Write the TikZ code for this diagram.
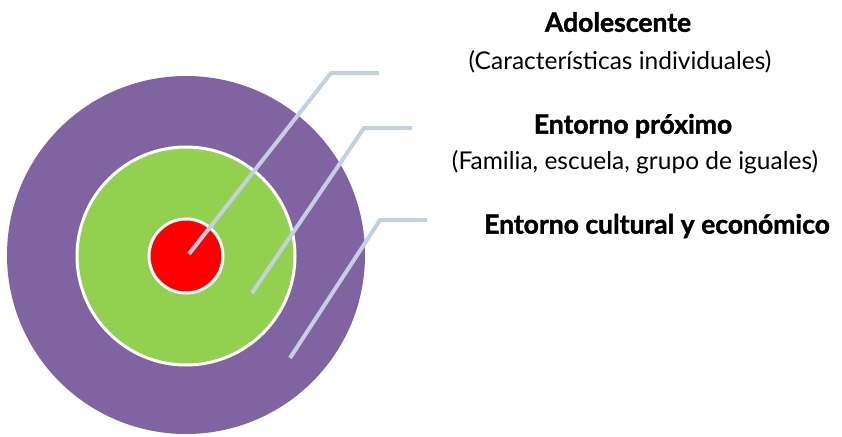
\documentclass[tikz,border=0pt]{standalone}
\usepackage{fontspec}
\setmainfont{Lato}[BoldFeatures={FakeBold=1.5}]
\begin{document}
\begin{tikzpicture}[x=1pt,y=-1pt,
  ring/.style={circle,draw=white,line width=3pt,inner sep=0pt},
  leader/.style={draw=leadcol,line width=4pt},
  head/.style={font=\fontsize{26.5}{30}\selectfont\bfseries,inner sep=0pt},
  sub/.style={font=\fontsize{24.5}{28}\selectfont,inner sep=0pt}]
\definecolor{purp}{HTML}{8064A2}
\definecolor{grn}{HTML}{92D050}
\definecolor{leadcol}{HTML}{C4CFDF}
\useasboundingbox (0,0) rectangle (842,436);
\node[circle,fill=purp,minimum size=358pt,inner sep=0pt] (outer) at (186,255) {};
\node[ring,fill=grn,minimum size=218pt] (mid) at (186,256) {};
\node[ring,fill=red,minimum size=74pt] (core) at (186,256) {};
% leader lines
\coordinate (a1) at (189,254); \coordinate (b1) at (331,73); \coordinate (c1) at (379,73);
\coordinate (a2) at (252,293); \coordinate (b2) at (364,128); \coordinate (c2) at (412,128);
\coordinate (a3) at (290,358); \coordinate (b3) at (380,220); \coordinate (c3) at (427,220);
\draw[leader] (a1) -- (b1) -- (c1);
\draw[leader] (a2) -- (b2) -- (c2);
\draw[leader] (a3) -- (b3) -- (c3);
% labels
\node[head] (t1) at (618,22) {Adolescente};
\node[sub] (s1) at (620,62) {(Características individuales)};
\node[head] (t2) at (633,126) {Entorno próximo};
\node[sub] (s2) at (635,162) {(Familia, escuela, grupo de iguales)};
\node[head] (t3) at (657,226) {Entorno cultural y económico};
\end{tikzpicture}
\end{document}
